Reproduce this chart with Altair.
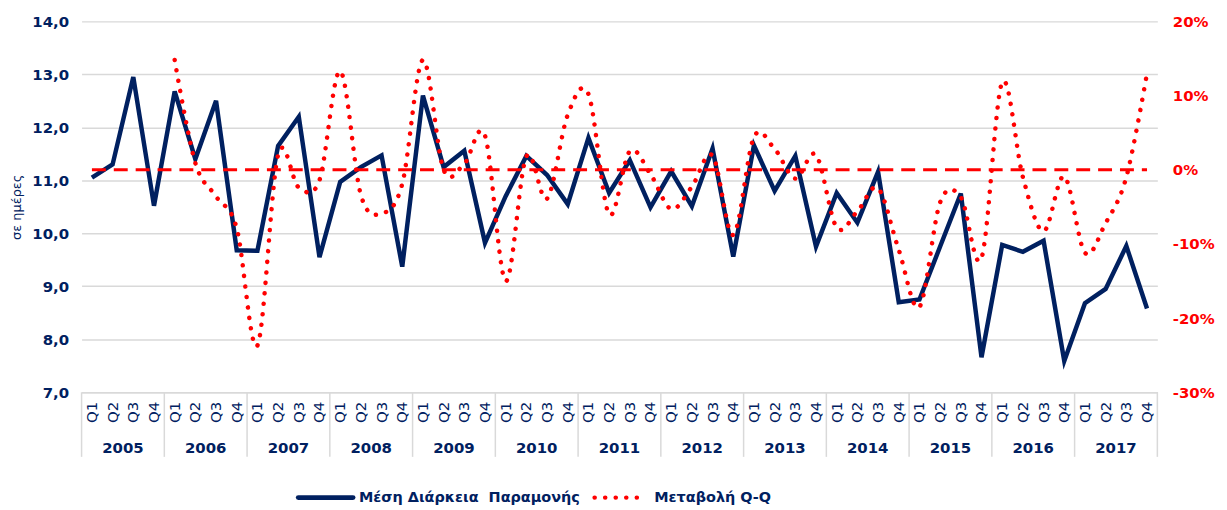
import altair as alt
import pandas as pd

NAVY = "#002060"
RED = "#FF0000"
GRID = "#D9D9D9"
FONT = "DejaVu Sans"

years = [str(y) for y in range(2005, 2018)]
quarters = ["Q1", "Q2", "Q3", "Q4"]

# Μέση Διάρκεια Παραμονής (days), one value per quarter 2005Q1..2017Q4
stay = [11.05, 11.30, 12.95, 10.52,
        12.68, 11.40, 12.50, 9.68,
        9.67, 11.65, 12.20, 9.55,
        10.97, 11.25, 11.47, 9.37,
        12.60, 11.25, 11.56, 9.82,
        10.70, 11.46, 11.10, 10.55,
        11.80, 10.76, 11.38, 10.49,
        11.17, 10.51, 11.60, 9.56,
        11.66, 10.80, 11.46, 9.75,
        10.76, 10.20, 11.16, 8.70,
        8.75, 9.75, 10.75, 7.66,
        9.78, 9.65, 9.86, 7.59,
        8.68, 8.95, 9.76, 8.58]

# Μεταβολή Q-Q (%), starts 2006Q1
change = [None, None, None, None,
          14.8, 0.9, -3.6, -7.9,
          -23.7, 2.0, -2.4, -1.4,
          13.3, -3.4, -5.9, -1.9,
          14.8, 0.0, 0.8, 4.6,
          -15.0, 1.8, -3.9, 7.4,
          10.2, -6.0, 2.5, -0.6,
          -5.3, -2.3, 1.9, -8.8,
          4.4, 2.8, -1.2, 2.0,
          -7.8, -5.6, -2.5, -10.8,
          -18.5, -4.4, -3.7, -11.9,
          11.8, -1.0, -8.3, -0.9,
          -11.2, -7.2, -1.0, 13.0]

series_names = ["Μέση Διάρκεια\u00a0 Παραμονής", "Μεταβολή Q-Q"]
y_title = "σε ημέρες"
left_ticks = [7, 8, 9, 10, 11, 12, 13, 14]
right_ticks = [-30, -25, -20, -15, -10, -5, 0, 5, 10, 15, 20]

keys = [f"{y} {q}" for y in years for q in quarters]
df = pd.DataFrame({"key": keys, "stay": stay, "change": change})
year_df = pd.DataFrame({"year": years, "key": [f"{y} Q2" for y in years]})
sep_df = pd.DataFrame({"key": [f"{y} Q1" for y in years]})
end_df = pd.DataFrame({"key": [keys[-1]]})

W, H = 1082, 373

xscale = alt.Scale(type="band", domain=keys, paddingInner=0, paddingOuter=0)
xaxis = alt.Axis(title=None, labelExpr="slice(datum.value, 5)", labelAngle=270,
                 ticks=False, domain=True, domainColor=GRID, domainWidth=1.5,
                 labelColor=NAVY, labelFont=FONT, labelFontSize=15,
                 labelFontWeight="normal", labelPadding=9, grid=False)


def X(**kw):
    return alt.X("key:N", scale=xscale, axis=xaxis, **kw)


navy = alt.Chart(df).mark_line(color=NAVY, strokeWidth=4.5, strokeJoin="miter").encode(
    x=X(),
    y=alt.Y("stay:Q", scale=alt.Scale(domain=[7, 14], nice=False, zero=False),
            axis=alt.Axis(values=left_ticks,
                          labelExpr="replace(format(datum.value, '.1f'), '.', ',')",
                          title=y_title, titleColor=NAVY, titleFont=FONT,
                          titleFontSize=13, titleFontWeight="normal",
                          titleX=-65, titleY=H / 2, titleBaseline="middle",
                          grid=True, gridColor=GRID, gridWidth=1.5,
                          domain=False, ticks=False, labelColor=NAVY,
                          labelFont=FONT, labelFontSize=15, labelFontWeight="bold",
                          labelPadding=13)),
)

years_txt = alt.Chart(year_df).mark_text(
    font=FONT, fontSize=15, fontWeight="bold", color=NAVY, baseline="middle", align="center"
).encode(x=X(bandPosition=1), y=alt.value(H + 56), text="year:N")

seps = alt.Chart(sep_df).mark_rule(color=GRID, strokeWidth=1.5).encode(
    x=X(bandPosition=0), y=alt.value(H), y2=alt.value(H + 65))
sep_end = alt.Chart(end_df).mark_rule(color=GRID, strokeWidth=1.5).encode(
    x=X(bandPosition=1), y=alt.value(H), y2=alt.value(H + 65))

yr = alt.Y("change:Q", scale=alt.Scale(domain=[-30, 20], nice=False, zero=False),
           axis=alt.Axis(orient="right", values=right_ticks,
                         labelExpr="datum.value + '%'", title=None, grid=False,
                         domain=False, ticks=False, labelColor=RED, labelFont=FONT,
                         labelFontSize=15, labelFontWeight="bold", labelPadding=15))

dotted = alt.Chart(df).mark_line(color=RED, strokeWidth=4.5, strokeDash=[0.1, 10.5],
                                 strokeCap="round", interpolate="cardinal").encode(
    x=X(), y=yr)
zero = alt.Chart(df).mark_line(color=RED, strokeWidth=3, strokeDash=[14, 8]).encode(
    x=X(), y=alt.datum(0))

# custom legend
one = pd.DataFrame({"name": [series_names[0]]})
two = pd.DataFrame({"name": [series_names[1]]})
LY = 479
leg1_sym = alt.Chart(one).mark_rule(color=NAVY, strokeWidth=5, strokeCap="round").encode(
    x=alt.value(218), x2=alt.value(273), y=alt.value(LY))
leg1_txt = alt.Chart(one).mark_text(font=FONT, fontSize=14.5, fontWeight="bold", color=NAVY,
                                    align="left", baseline="middle").encode(
    x=alt.value(279), y=alt.value(LY), text="name:N")
leg2_sym = alt.Chart(two).mark_rule(color=RED, strokeWidth=4.5, strokeCap="round",
                                    strokeDash=[0.1, 10.5]).encode(
    x=alt.value(516), x2=alt.value(569), y=alt.value(LY))
leg2_txt = alt.Chart(two).mark_text(font=FONT, fontSize=14.5, fontWeight="bold", color=NAVY,
                                    align="left", baseline="middle").encode(
    x=alt.value(576), y=alt.value(LY), text="name:N")

left_group = alt.layer(navy, years_txt, seps, sep_end, leg1_sym, leg1_txt, leg2_sym, leg2_txt)
right_group = alt.layer(zero, dotted)

chart = alt.layer(left_group, right_group).resolve_scale(y="independent").properties(
    width=W, height=H,
    autosize=alt.AutoSizeParams(type="none"),
    padding={"left": 74, "top": 12, "right": 62, "bottom": 118},
    background="white",
).configure_view(stroke=None)

chart.save("out.html", embed_options={"renderer": "svg", "actions": False})
